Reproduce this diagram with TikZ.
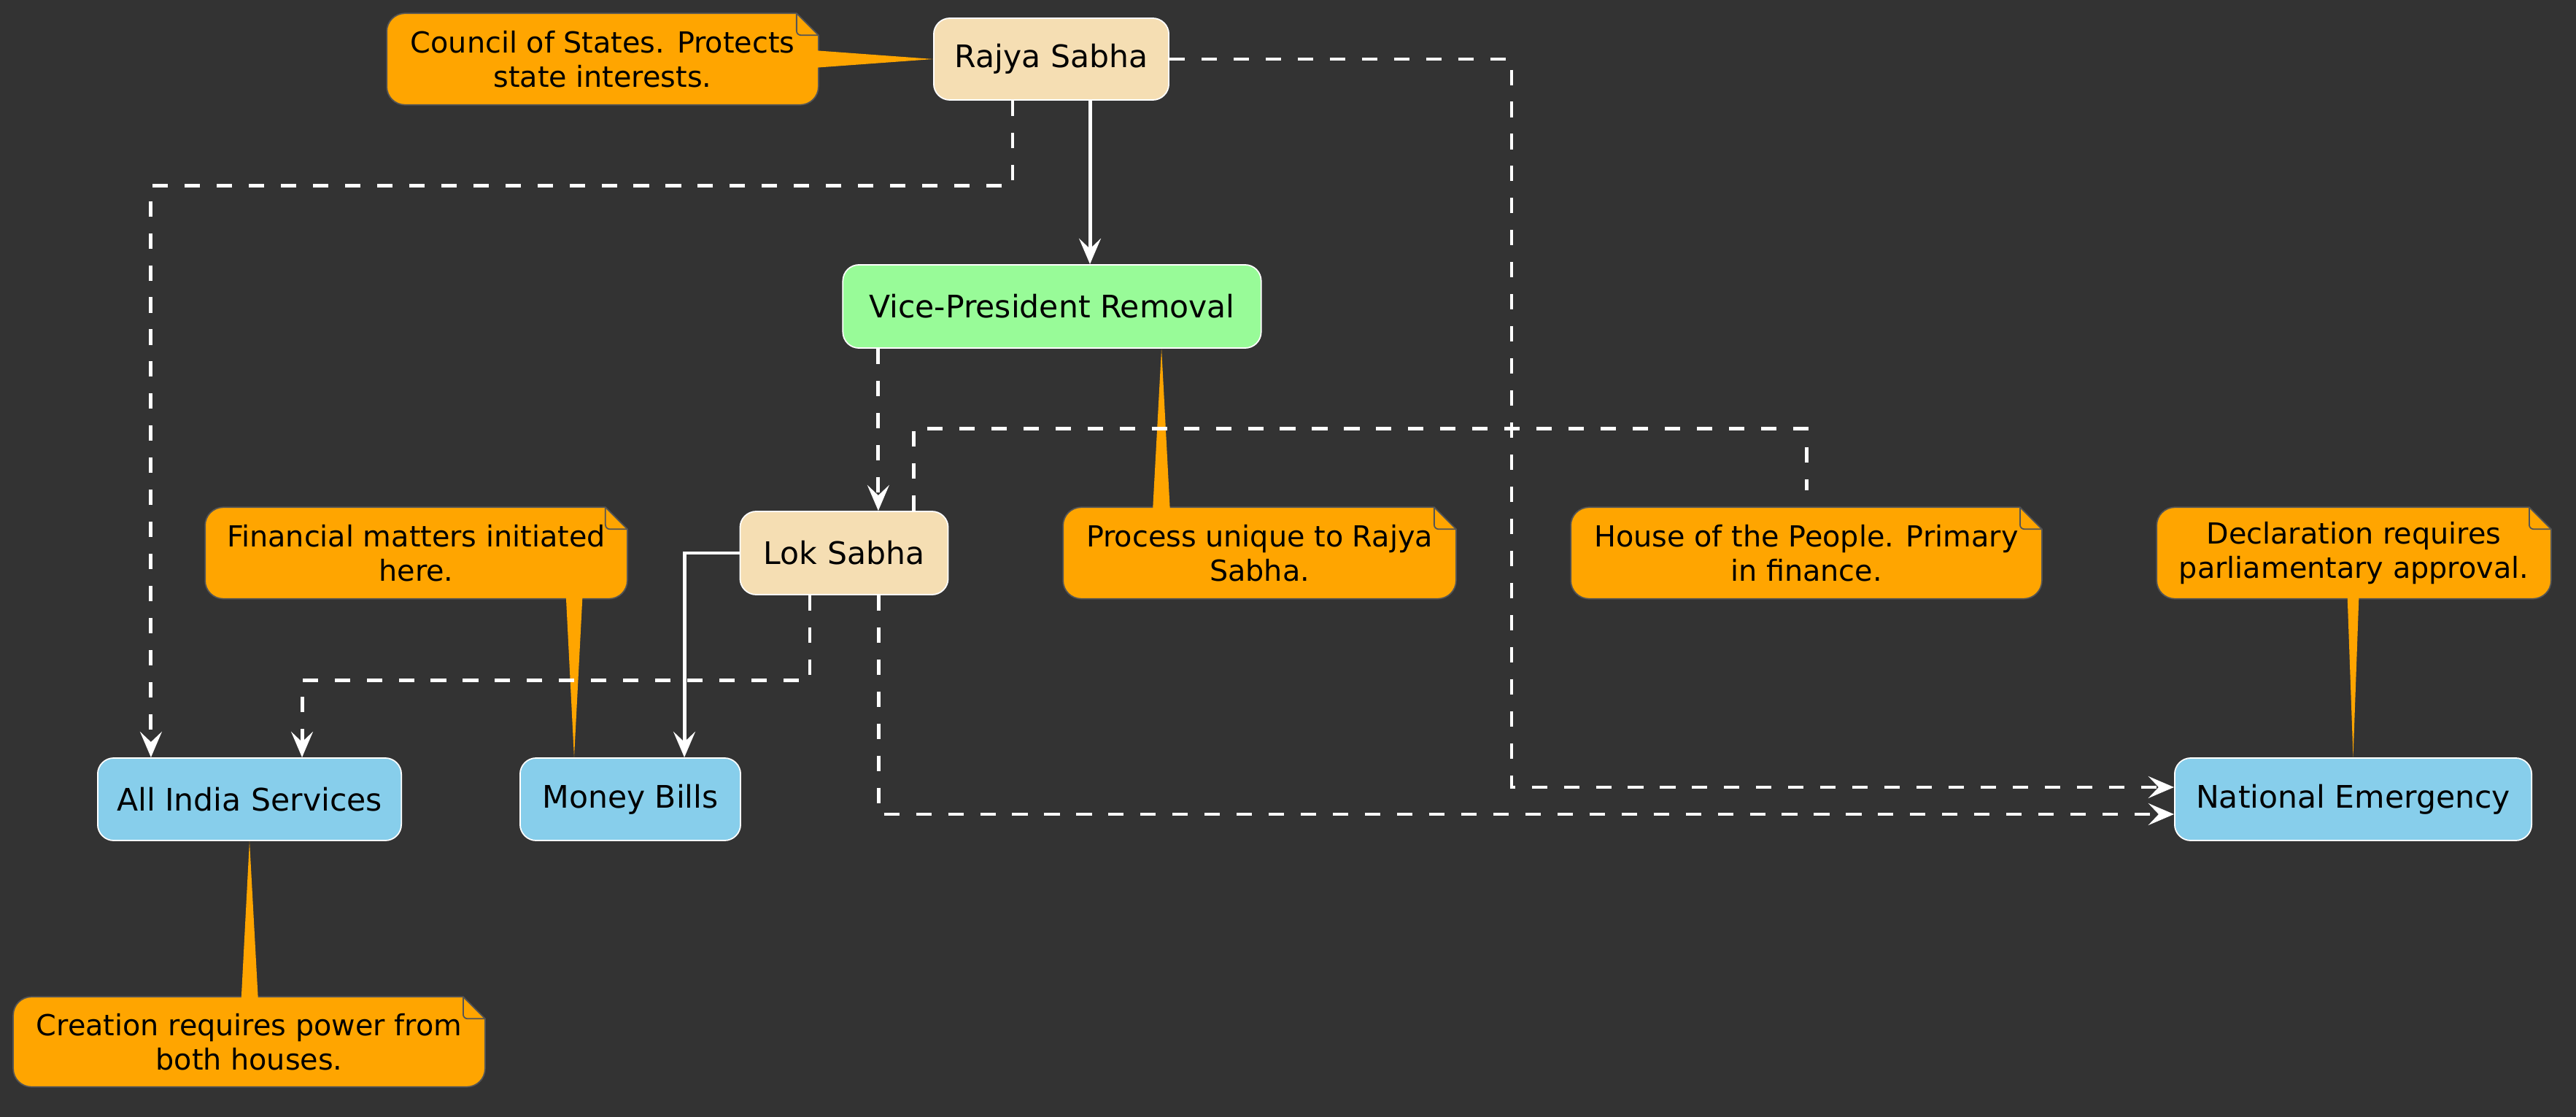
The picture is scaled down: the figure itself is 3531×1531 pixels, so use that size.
\documentclass[tikz,border=0pt]{standalone}
\usepackage{fontspec}
\setmainfont{DejaVu Sans}
\usetikzlibrary{arrows.meta,calc}
\definecolor{bgc}{HTML}{333333}
\definecolor{wheatc}{HTML}{F5DEB3}
\definecolor{greenc}{HTML}{98FB98}
\definecolor{bluec}{HTML}{87CEEB}
\definecolor{notec}{HTML}{FFA500}
\definecolor{noteb}{HTML}{555555}
\pgfdeclarelayer{layerzero}
\pgfdeclarelayer{layerone}
\pgfsetlayers{layerzero,layerone,main}
\newcommand\notebox[6]{%
  \node[notetxt, minimum width=#4, minimum height=#5] (#1) at (#2,#3) {#6};
  \begin{pgfonlayer}{layerone}
    \draw[noteshape] (#1.west) [rounded corners=0.25cm] -- (#1.north west) [sharp corners] -- ([xshift=-0.3cm]#1.north east) -- ([yshift=-0.3cm]#1.north east) [rounded corners=0.25cm] -- (#1.south east) -- (#1.south west) -- cycle;
    \draw[noteb, line width=0.5pt, rounded corners=0.06cm] ([xshift=-0.3cm]#1.north east) -- ([xshift=-0.3cm,yshift=-0.3cm]#1.north east) -- ([yshift=-0.3cm]#1.north east);
  \end{pgfonlayer}%
}
\begin{document}
\begin{tikzpicture}[x=0.01cm,y=-0.01cm,
  box/.style={draw=white, line width=0.5pt, rounded corners=0.22cm, inner sep=0pt, font=\fontsize{12.1}{14}\selectfont, text=black},
  notetxt/.style={inner sep=0pt, align=center, font=\fontsize{11.3}{13.4}\selectfont, text=black},
  noteshape/.style={fill=notec, draw=noteb, line width=0.5pt},
  pointer/.style={fill=notec},
  link/.style={white, line width=1.4pt, -{Stealth[length=10pt,width=8.5pt,inset=4pt]}},
  dlink/.style={link, dash pattern=on 6pt off 6.5pt},
  dline/.style={white, line width=1.4pt, dash pattern=on 6pt off 6.5pt},
]
\begin{pgfonlayer}{layerzero}
  \fill[bgc] (0,0) rectangle (3531,1531);
\end{pgfonlayer}
\useasboundingbox (0,0) rectangle (3531,1531);

% main nodes
\node[box, fill=wheatc, minimum width=3.22cm, minimum height=1.12cm] (rs) at (1441,81) {Rajya Sabha};
\node[box, fill=greenc, minimum width=5.73cm, minimum height=1.14cm] (vp) at (1442,420) {Vice-President Removal};
\node[box, fill=wheatc, minimum width=2.85cm, minimum height=1.14cm] (ls) at (1157,758) {Lok Sabha};
\node[box, fill=bluec, minimum width=4.16cm, minimum height=1.13cm] (ais) at (342,1095.5) {All India Services};
\node[box, fill=bluec, minimum width=3.02cm, minimum height=1.13cm] (mb) at (864,1095.5) {Money Bills};
\node[box, fill=bluec, minimum width=4.89cm, minimum height=1.13cm] (ne) at (3225.5,1095.5) {National Emergency};

% notes
\notebox{ncouncil}{826}{81}{5.9cm}{1.24cm}{Council of States. Protects\\state interests.}
\notebox{nfin}{570.5}{758}{5.77cm}{1.24cm}{Financial matters initiated\\here.}
\notebox{nproc}{1726.5}{758}{5.37cm}{1.24cm}{Process unique to Rajya\\Sabha.}
\notebox{nhouse}{2476}{758}{6.44cm}{1.24cm}{House of the People. Primary\\in finance.}
\notebox{ndecl}{3226.5}{758}{5.39cm}{1.24cm}{Declaration requires\\parliamentary approval.}
\notebox{ncreat}{341.5}{1428}{6.45cm}{1.22cm}{Creation requires power from\\both houses.}

% note pointers
\begin{pgfonlayer}{layerone}
  \fill[pointer] ([xshift=-2pt,yshift=0.12cm]ncouncil.east) -- (rs.west) -- ([xshift=-2pt,yshift=-0.12cm]ncouncil.east) -- cycle;
  \fill[pointer] ([xshift=2.05cm,yshift=2pt]nfin.south) -- ([xshift=-0.77cm]mb.north) -- ([xshift=2.28cm,yshift=2pt]nfin.south) -- cycle;
  \fill[pointer] ([xshift=-1.465cm,yshift=-2pt]nproc.north) -- ([xshift=1.5cm]vp.south) -- ([xshift=-1.225cm,yshift=-2pt]nproc.north) -- cycle;
  \fill[pointer] ([xshift=-0.13cm,yshift=-2pt]ndecl.north) -- (ne.north) -- ([xshift=0.11cm,yshift=-2pt]ndecl.north) -- cycle;
  \fill[pointer] ([xshift=-0.11cm,yshift=-2pt]ncreat.north) -- (ais.south) -- ([xshift=0.125cm,yshift=-2pt]ncreat.north) -- cycle;
\end{pgfonlayer}

% connectors
\draw[link] ([xshift=0.53cm]rs.south) -- ([xshift=0.53cm]rs.south |- vp.north);
\draw[dlink] ([xshift=-0.53cm]rs.south) -- ++(0,117) -| ([xshift=-1.35cm]ais.north);
\draw[dlink] (rs.east) -- (2072,81) |- ([yshift=0.165cm]ne.west);
\draw[dlink] ([xshift=-2.38cm]vp.south) -- ([xshift=-2.38cm]vp.south |- ls.north);
\draw[dline] ([xshift=0.95cm]ls.north) -- ++(0,-113) -| ([yshift=0.23cm]nhouse.north);
\draw[link] (ls.west) -| ([xshift=0.74cm]mb.north);
\draw[dlink] ([xshift=-0.47cm]ls.south) -- ++(0,117) -| ([xshift=0.72cm]ais.north);
\draw[dlink] ([xshift=0.47cm]ls.south) |- ([yshift=-0.205cm]ne.west);
\end{tikzpicture}
\end{document}
